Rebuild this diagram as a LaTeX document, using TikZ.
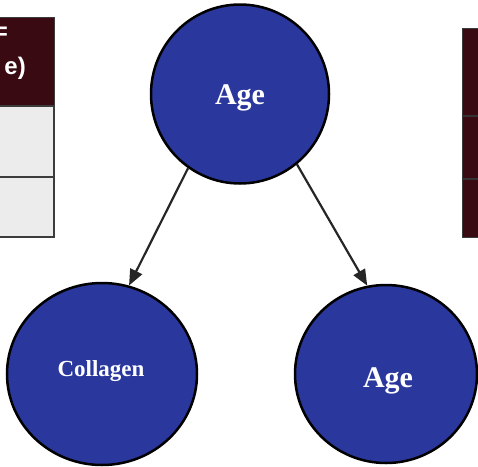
\documentclass[tikz,border=0pt]{standalone}
\usepackage{fontspec}
\setmainfont{Liberation Serif}
\newfontfamily\tablefont{Liberation Sans}
\usetikzlibrary{shapes.geometric,arrows.meta}
\definecolor{nodeblue}{RGB}{42,56,158}
\definecolor{headmaroon}{RGB}{58,10,18}
\definecolor{rowgray}{RGB}{236,236,236}
\definecolor{rulegray}{RGB}{60,60,60}
\begin{document}
\begin{tikzpicture}[x=1pt,y=-1pt,
  var/.style={ellipse, draw=black, line width=2.5pt, fill=nodeblue, inner sep=0pt},
  varlabel/.style={text=white, inner sep=0pt, font=\bfseries\fontsize{#1}{#1}\selectfont},
  link/.style={draw=black!85, line width=2.2pt, -{Triangle[length=16pt,width=13pt]}},
  headtext/.style={text=white, inner sep=0pt, font=\tablefont\bfseries\fontsize{24}{26}\selectfont}]
\useasboundingbox (0,0) rectangle (478,466);

% table on the left, cut off by the margin
\fill[headmaroon] (-5,17) rectangle (54,106);
\draw[rulegray, line width=1pt] (-5,17) -- (54,17) -- (54,106);
\fill[rowgray] (-5,106) rectangle (54,177);
\fill[rowgray] (-5,177) rectangle (54,237);
\draw[rulegray, line width=1.3pt] (-5,106) -- (54,106) -- (54,237) -- (-5,237);
\draw[rulegray, line width=1.3pt] (-5,177) -- (54,177);
\node[headtext, anchor=base east] (eqsign) at (8,39) {=};
\node[headtext, anchor=base east] (paren) at (26,74) {e)};

% table on the right, cut off by the margin
\fill[headmaroon] (462,28) rectangle (483,237);
\draw[rulegray, line width=1pt] (483,28) -- (462,28) -- (462,237) -- (483,237);
\draw[black!80, line width=1.5pt] (462,116) -- (483,116);
\draw[black!80, line width=1.5pt] (462,179) -- (483,179);

% variables
\node[var, minimum width=178pt, minimum height=179pt] (top) at (240,94) {};
\node[varlabel=30] (toplabel) at (240,98) {Age};
\node[var, minimum width=190pt, minimum height=182pt] (collagen) at (102,374) {};
\node[varlabel=23] (collagenlabel) at (101,371) {Collagen};
\node[var, minimum width=182pt, minimum height=178pt] (age) at (386,374) {};
\node[varlabel=30] (agelabel) at (388,381) {Age};

% dependencies
\draw[link] (top.235) -- (collagen.73);
\draw[link] (top.309) -- (age.102);
\end{tikzpicture}
\end{document}
